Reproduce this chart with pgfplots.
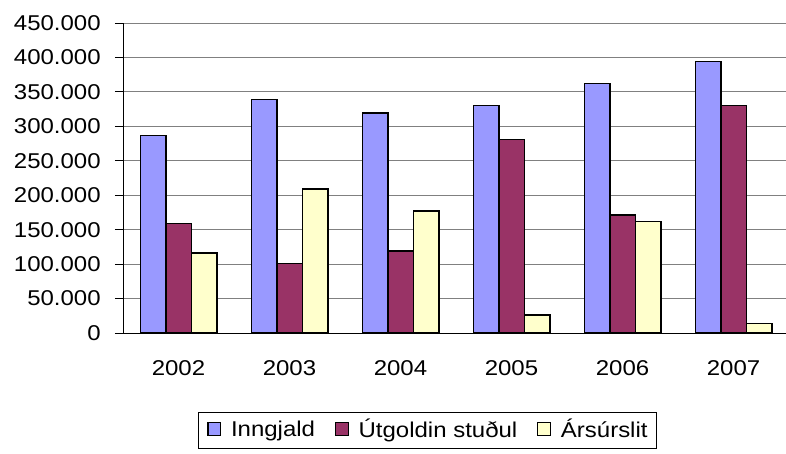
\documentclass[border=0pt]{standalone}
\usepackage{fontspec}
\setmainfont{Liberation Sans}[FakeStretch=1.12]
\usepackage{pgfplots}
\pgfplotsset{compat=1.18}
\definecolor{cA}{HTML}{9999FF}
\definecolor{cB}{HTML}{993366}
\definecolor{cC}{HTML}{FFFFCC}
\begin{document}
\fontsize{21.5}{25}\selectfont
\begin{tikzpicture}
\begin{axis}[
  scale only axis, width=666bp, height=310bp,
  ymin=0, ymax=450000, ytick={0,50000,100000,150000,200000,250000,300000,350000,400000,450000},
  yticklabels={0,50.000,100.000,150.000,200.000,250.000,300.000,350.000,400.000,450.000},
  scaled y ticks=false,
  xmin=-0.5, xmax=5.5,
  xtick={0,...,5}, xticklabels={2002,2003,2004,2005,2006,2007},
  minor xtick={-0.5,0.5,...,5.5},
  axis x line=bottom, axis y line=left,
  axis line style={-, black, line width=0.9bp},
  tick align=outside,
  major tick length=8bp, minor tick length=7bp,
  xtick style={draw=none},
  minor x tick style={black, line width=0.9bp},
  ytick style={black, line width=0.9bp},
  ymajorgrids, grid style={draw=gray, line width=0.9bp},
  every tick label/.append style={font=\fontsize{21.5}{25}\selectfont},
  yticklabel style={xshift=-7bp},
  xticklabel style={yshift=-12bp},
  ybar=0pt, bar width=25.5bp,
  legend columns=-1,
  legend image code/.code={\draw[#1, line width=1.1bp] (0bp,-5bp) rectangle (12.5bp,7.5bp);},
  legend style={at={(0,0)}, anchor=north west, xshift=75bp, yshift=-79bp,
    draw=black, line width=0.8bp, font=\fontsize{21.5}{25}\selectfont,
    inner xsep=9bp, inner ysep=7bp,
    nodes={inner sep=0pt},
    /tikz/every odd column/.append style={column sep=10bp},
    /tikz/every even column/.append style={column sep=20bp}},
]
\addplot[fill=cA, draw=black, line width=1.5bp] coordinates {(0,287000) (1,339000) (2,319000) (3,330000) (4,362000) (5,394000)};
\addplot[fill=cB, draw=black, line width=1.5bp] coordinates {(0,159000) (1,101000) (2,119000) (3,281000) (4,171000) (5,330000)};
\addplot[fill=cC, draw=black, line width=1.5bp] coordinates {(0,116000) (1,209000) (2,177000) (3,26000) (4,162000) (5,14000)};
\legend{Inngjald, Útgoldin stuðul, Ársúrslit}
\coordinate (BL) at (rel axis cs:0,0);
\coordinate (TR) at (rel axis cs:1,1);
\end{axis}
\pgfresetboundingbox
\path ([shift={(-123bp,-120bp)}]BL) rectangle ([shift={(-3bp,23bp)}]TR);
\end{tikzpicture}
\end{document}
